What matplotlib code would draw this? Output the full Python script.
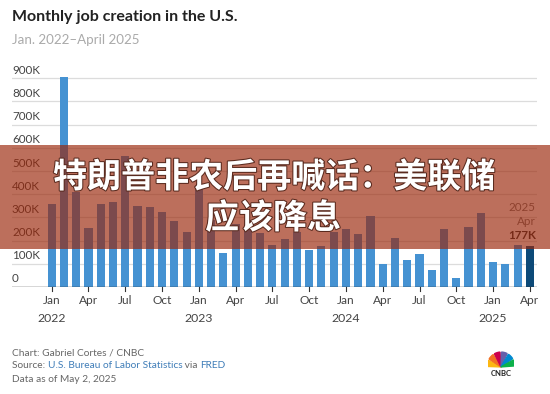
import matplotlib
matplotlib.use('Agg')
import matplotlib.pyplot as plt
import matplotlib.patheffects as pe
from matplotlib.patches import Rectangle, Wedge
import numpy as np

# monthly payroll change, thousands, Jan 2022 - Apr 2025
jobs_2022 = [360, 904, 410, 253, 360, 367, 563, 349, 345, 322, 284, 236]
jobs_2023 = [440, 287, 145, 272, 290, 232, 182, 208, 237, 161, 178, 237]
jobs_2024 = [252, 230, 305, 101, 213, 115, 141, 75, 252, 39, 257, 321]
jobs_2025 = [106, 98, 180, 177]
jobs = jobs_2022 + jobs_2023 + jobs_2024 + jobs_2025

tick_months = ['Jan', 'Apr', 'Jul', 'Oct'] * 3 + ['Jan', 'Apr']
year_labels = ['2022', '2023', '2024', '2025']
y_ticks = [0, 100, 200, 300, 400, 500, 600, 700, 800, 900]

title = 'Monthly job creation in the U.S.'
subtitle = 'Jan. 2022\u2013April 2025'
headline = ['特朗普非农后再喊话：美联储', '应该降息']

W, H = 550, 394
BLUE = '#4592d2'
DARK = '#0d4a78'
plt.rcParams['font.family'] = ['Lato', 'DejaVu Sans']


def px(x, y):
    return x / W, 1 - y / H


fig = plt.figure(figsize=(W / 100, H / 100), dpi=100)
fig.patch.set_facecolor('white')

# axes: zero at y=287px, 100K = 23.19px, Jan22 at x=51.7, 12.26px/month
y0, k = 287.0, 23.19 / 100
ytop = 950
left, right = 12, 537
x_l = (left - 51.7) / 12.26
x_r = (right - 51.7) / 12.26
ax = fig.add_axes([left / W, (H - y0) / H, (right - left) / W, ytop * k / H])
ax.set_xlim(x_l, x_r)
ax.set_ylim(0, ytop)
for s in ax.spines.values():
    s.set_visible(False)

x = np.arange(len(jobs))
colors = [BLUE] * (len(jobs) - 1) + [DARK]
ax.bar(x, jobs, width=0.66, color=colors, zorder=2)

for v in y_ticks[1:]:
    ax.axhline(v, color='#dcdcdc', lw=0.9, zorder=1)
ax.axhline(0, color='#333333', lw=1.0, zorder=3)
ax.set_yticks([])
ax.set_xticks([])

for v in y_ticks:
    lab = '0' if v == 0 else f'{v}K'
    ax.text(x_l, v + 8 / k, lab, fontsize=8.4, color='#444444',
            ha='left', va='center')

tick_pos = np.arange(0, len(jobs), 3)
for i, p in enumerate(tick_pos):
    ax.plot([p, p], [0, -4 / k], color='#333333', lw=0.8, clip_on=False, zorder=3)
    ax.text(p, -(300 - y0) / k, tick_months[i], fontsize=8.6, color='#444444',
            ha='center', va='center')
for j, yl in enumerate(year_labels):
    ax.text(12 * j, -(318 - y0) / k, yl, fontsize=8.8, color='#444444',
            ha='center', va='center')

# last value annotation
xa = x_r - 0.1
ax.text(xa, (y0 - 207) / k, '2025', fontsize=8.4, color='#777777', ha='right', va='center')
ax.text(xa, (y0 - 221) / k, 'Apr', fontsize=8.4, color='#777777', ha='right', va='center')
ax.text(xa, (y0 - 235) / k, f'{jobs[-1]}K', fontsize=8.4, color='#333333',
        fontweight='bold', ha='right', va='center')

# titles
fig.text(*px(12, 17), title, fontsize=11.5, fontweight='bold', color='#222222', va='center')
fig.text(*px(12, 40), subtitle, fontsize=9.6, color='#aaaaaa', va='center')

# footer
FS = 7.3
fig.text(*px(12, 353), 'Chart: Gabriel Cortes / CNBC', fontsize=FS, color='#666666', va='center')
fig.text(*px(12, 380), 'Data as of May 2, 2025', fontsize=FS, color='#666666', va='center')
parts = [('Source: ', '#666666'), ('U.S. Bureau of Labor Statistics', '#3f7db8'),
         (' via ', '#666666'), ('FRED', '#3f7db8')]
fig.canvas.draw()
r = fig.canvas.get_renderer()


def text_w(s):
    t = fig.text(0, 0, s + '|', fontsize=FS)
    t2 = fig.text(0, 0, '|', fontsize=FS)
    w = t.get_window_extent(r).width - t2.get_window_extent(r).width
    t.remove()
    t2.remove()
    return w


xp = 12
for s, c in parts:
    fig.text(*px(xp, 366), s, fontsize=FS, color=c, va='center')
    xp += text_w(s)

# CNBC logo
lax = fig.add_axes([488 / W, (H - 368) / H, 26 / W, 17 / H])
lax.set_xlim(-1.3, 1.3)
lax.set_ylim(-0.1, 1.5)
lax.axis('off')
feathers = ['#fcb711', '#f37021', '#cc004c', '#6460aa', '#0089d0', '#0db14b']
for i, c in enumerate(feathers):
    a0 = 180 - i * 30
    lax.add_patch(Wedge((0, 0), 1.4, a0 - 26, a0 - 2, color=c))
fig.text(*px(501, 373), 'CNBC', fontsize=5.5, fontweight='bold', color='#222222',
         ha='center', va='center')

# overlay band with headline
fig.patches.append(Rectangle(px(0, 248.5), 1, 103.5 / H, transform=fig.transFigure,
                             facecolor='#9a2508', alpha=0.66, edgecolor='none', zorder=5))
hl_fx = [pe.withStroke(linewidth=1.5, foreground='#5a2a1e')]
for line, yy, xx in [(headline[0], 177, 274), (headline[1], 218, 273)]:
    fig.text(*px(xx, yy), line, fontsize=24.5, fontweight='heavy', color='white',
             ha='center', va='center', family=['Noto Sans CJK SC', 'DejaVu Sans'],
             zorder=6, path_effects=hl_fx)

fig.savefig('out.png', dpi=100)
